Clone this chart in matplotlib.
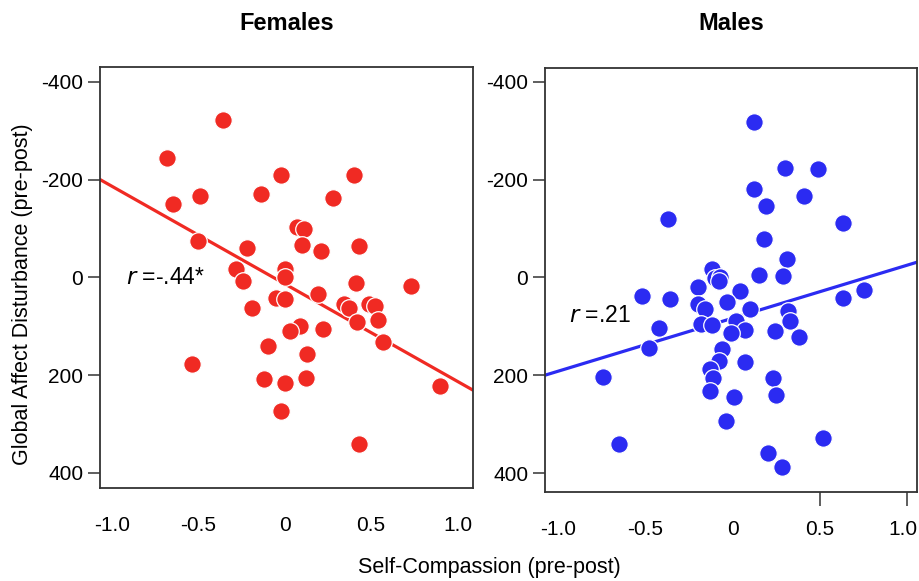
import numpy as np
import matplotlib
matplotlib.use("Agg")
import matplotlib.pyplot as plt
import matplotlib.transforms as mtransforms

plt.rcParams["font.family"] = ["Liberation Sans", "DejaVu Sans"]

# Females: self-compassion change vs global affect disturbance change
fem_x = [-0.36, -0.68, -0.65, -0.49, -0.02, 0.40, -0.14, 0.28, 0.07, 0.11,
         0.10, 0.21, 0.43, -0.50, -0.22, -0.28, -0.24, 0.00, 0.00, 0.41,
         0.73, 0.19, -0.05, 0.00, -0.19, 0.34, 0.37, 0.49, 0.52, 0.42,
         0.54, 0.09, 0.03, 0.22, 0.57, -0.10, 0.13, -0.54, -0.12, 0.12,
         0.00, 0.90, -0.02, 0.43]
fem_y = [-321, -244, -149, -166, -210, -210, -170, -162, -103, -98,
         -66, -53, -63, -75, -60, -17, 7, -17, -1, 12,
         17, 34, 43, 44, 62, 54, 63, 54, 58, 92,
         88, 100, 110, 105, 132, 141, 156, 177, 209, 206,
         216, 222, 274, 340]

# Males
mal_x = [0.12, 0.30, 0.49, 0.12, 0.19, 0.41, -0.37, 0.63, 0.18, 0.31,
         0.15, 0.29, -0.12, -0.10, -0.07, -0.08, -0.20, 0.04, -0.52, -0.36,
         -0.03, 0.63, 0.75, -0.20, -0.16, 0.10, 0.32, 0.33, -0.42, -0.18,
         -0.12, 0.02, 0.07, -0.01, 0.24, 0.38, -0.48, -0.06, -0.08, 0.07,
         -0.13, -0.11, -0.74, 0.23, -0.13, 0.01, 0.25, -0.04, -0.65, 0.52,
         0.20, 0.28]
mal_y = [-318, -223, -222, -180, -146, -166, -119, -112, -78, -37,
         -5, -2, -18, 2, 0, 7, 20, 27, 39, 44,
         50, 42, 26, 54, 65, 65, 69, 90, 103, 95,
         97, 90, 107, 114, 109, 121, 145, 147, 171, 173,
         187, 205, 204, 205, 233, 245, 241, 294, 340, 328,
         360, 388]

# fitted lines: y = a + b*x
fem_fit = (13.5, 199.5)
mal_fit = (83.5, -108.4)

y_ticks = [-400, -200, 0, 200, 400]
x_ticks = [-1.0, -0.5, 0, 0.5, 1.0]
x_labels = ["-1.0", "-0.5", "0", "0.5", "1.0"]

RED = "#f02a23"
BLUE = "#2b2bf2"

fig = plt.figure(figsize=(9.19, 5.81), dpi=100)
axL = fig.add_axes([0.1088, 0.160, 0.406, 0.7246])
axR = fig.add_axes([0.593, 0.153, 0.405, 0.730])


def panel(ax, xs, ys, fit, color, xlim, ylim, title, rtext, rpos):
    ax.set_xlim(*xlim)
    ax.set_ylim(*ylim)
    ax.scatter(xs, ys, s=160, color=color, edgecolors="white",
               linewidths=0.9, zorder=3)
    lx = np.array(ax.get_xlim())
    ax.plot(lx, fit[0] + fit[1] * lx, color=color, lw=2.3, zorder=2)
    ax.set_yticks(y_ticks)
    ax.set_yticklabels([str(v) for v in y_ticks])
    ax.set_xticks(x_ticks)
    ax.set_xticklabels(x_labels)
    ax.tick_params(axis="y", direction="out", length=9, width=1.1,
                   labelsize=15, pad=3, color="#333")
    ax.tick_params(axis="x", length=0, labelsize=15, pad=20)
    for sp in ax.spines.values():
        sp.set_linewidth(1.3)
        sp.set_color("#333")
    ax.text(rpos[0], rpos[1], r"$\it{r}$" + rtext, fontsize=16.5,
            va="center", ha="left")
    ax.set_title(title, fontsize=17, fontweight="bold", pad=27)


panel(axL, fem_x, fem_y, fem_fit, RED, (-1.07, 1.09), (431, -430),
      "Females", " =-.44*", (-0.92, 0))
panel(axR, mal_x, mal_y, mal_fit, BLUE, (-1.075, 1.057), (439, -428),
      "Males", " =.21", (-0.94, 77))

# the right panel shows two stray tick marks under the frame
axR.xaxis.remove_overlapping_locs = False
axR.set_xticks([0.5, 1.0], minor=True)
axR.tick_params(axis="x", which="minor", length=10, width=1.1, color="#333")

# keep the last "1.0" inside the figure edge
last = axR.get_xticklabels()[-1]
last.set_transform(last.get_transform() +
                   mtransforms.ScaledTranslation(-4 / 100, 0, fig.dpi_scale_trans))

fig.text(0.024, 0.494, "Global Affect Disturbance (pre-post)", rotation=90,
         fontsize=15.5, ha="center", va="center")
fig.text(0.532, 0.024, "Self-Compassion (pre-post)", fontsize=15.5,
         ha="center", va="center")

fig.savefig("out.png", dpi=100)
